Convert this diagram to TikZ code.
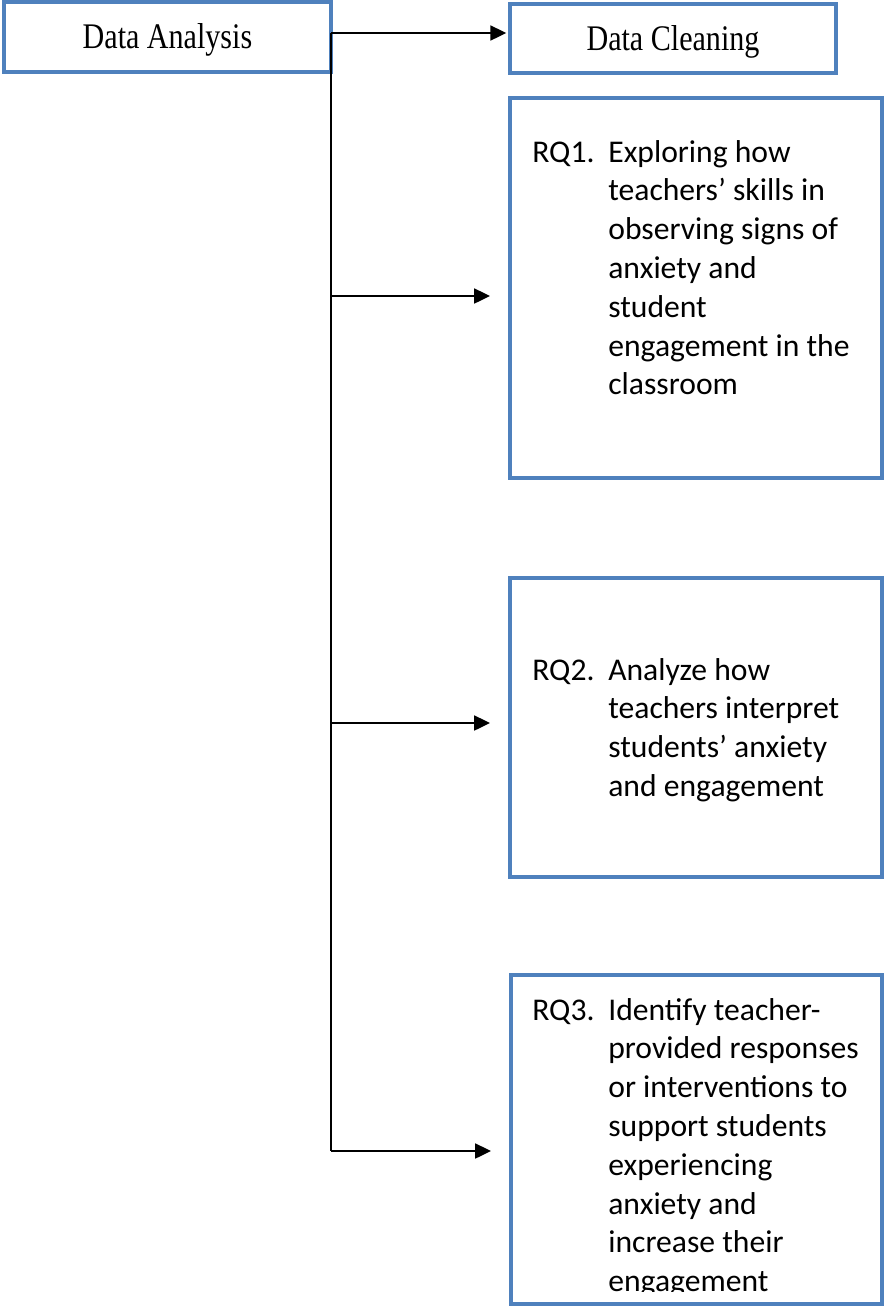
\documentclass[tikz,border=0pt]{standalone}
\usepackage{fontspec}
\setmainfont{Carlito}
\newfontfamily\stagefont{Liberation Serif}[FakeStretch=0.835]
\usetikzlibrary{arrows.meta}
\definecolor{boxblue}{RGB}{79,129,189}
\tikzset{
    stage/.style={draw=boxblue, line width=2.3pt, inner sep=0pt,
        text height=13.6pt, text depth=0pt,
        font=\stagefont\fontsize{20.5}{24}\selectfont},
    rqbox/.style={draw=boxblue, line width=2.3pt, inner sep=0pt},
    rqtext/.style={anchor=base west, inner sep=0pt,
        font=\fontsize{18}{22.1}\selectfont},
    wire/.style={line width=1.1pt},
    link/.style={wire, -{Triangle[length=9pt,width=8.5pt]}}
}
\newcommand{\rqrows}[2]{\begin{tabular}[t]{@{}p{1.52cm}@{}l@{}}#1 & #2\end{tabular}}
\begin{document}
\begin{tikzpicture}[x=0.02cm, y=-0.02cm]
    \useasboundingbox (0,0) rectangle (884,1306);
    % top row
    \node[stage, minimum width=6.54cm, minimum height=1.4cm] (analysis) at (167.5,37) {Data Analysis};
    \node[stage, minimum width=6.52cm, minimum height=1.38cm] (cleaning) at (673,38.5) {Data Cleaning};
    % research question boxes
    \node[rqbox, minimum width=7.44cm, minimum height=7.6cm] (box1) at (696,288) {};
    \node[rqbox, minimum width=7.44cm, minimum height=5.98cm] (box2) at (696,727.5) {};
    \node[rqbox, minimum width=7.42cm, minimum height=6.58cm] (box3) at (696.5,1139.5) {};
    \node[rqtext] (rq1) at (532,162) {\rqrows{RQ1.}{Exploring how\\ & teachers’ skills in\\ & observing signs of\\ & anxiety and\\ & student\\ & engagement in the\\ & classroom}};
    \node[rqtext] (rq2) at (532,680) {\rqrows{RQ2.}{Analyze how\\ & teachers interpret\\ & students’ anxiety\\ & and engagement}};
    \begin{scope}
        \clip (513,978) rectangle (880,1291);
        \node[rqtext] (rq3) at (532,1020) {\rqrows{RQ3.}{Identify teacher-\\ & provided responses\\ & or interventions to\\ & support students\\ & experiencing\\ & anxiety and\\ & increase their\\ & engagement}};
    \end{scope}
    % connectors
    \coordinate (split) at (331,33);
    \coordinate (b1) at (331,296);
    \coordinate (b2) at (331,723);
    \coordinate (b3) at (331,1151);
    \draw[wire] (split) -- (b3);
    \draw[link, shorten >=1pt] (split) -- (cleaning.west |- split);
    \foreach \b/\n in {b1/box1,b2/box2,b3/box3}{
        \draw[link, shorten >=0.36cm] (\b) -- (\n.west |- \b);
    }
\end{tikzpicture}
\end{document}
